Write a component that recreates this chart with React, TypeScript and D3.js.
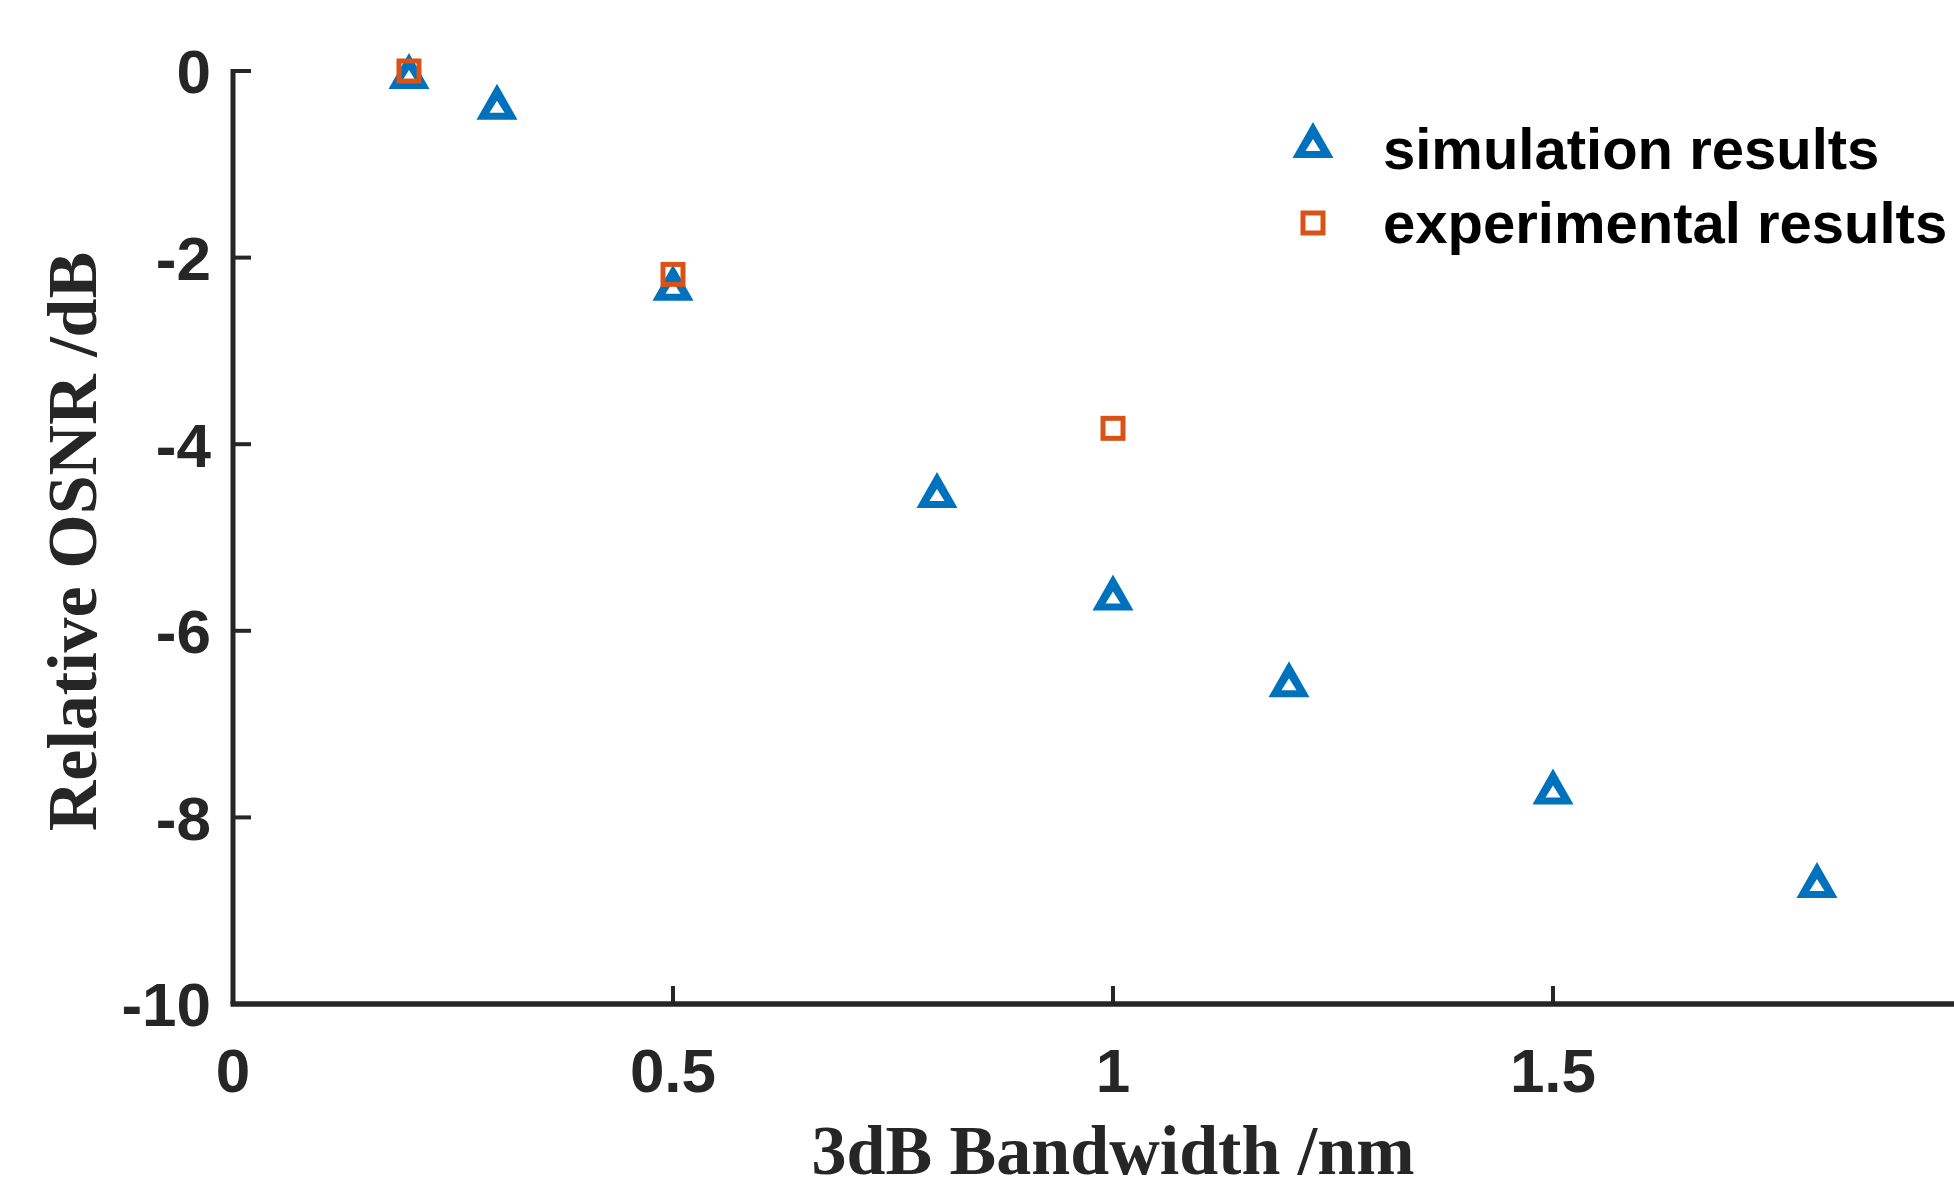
import { useEffect, useRef } from "react";
import * as d3 from "d3";

const simBandwidth = [0.2, 0.3, 0.5, 0.8, 1.0, 1.2, 1.5, 1.8];
const simOsnr = [0, -0.33, -2.27, -4.49, -5.59, -6.52, -7.67, -8.67];

const expBandwidth = [0.2, 0.5, 1.0];
const expOsnr = [0, -2.18, -3.83];

const xTicks = [0, 0.5, 1, 1.5];
const yTicks = [0, -2, -4, -6, -8, -10];

const legendLabels = ["simulation results", "experimental results"];

const BLUE = "#0072BD";
const ORANGE = "#D95319";
const AXIS = "#262626";

// triangle marker with a hole, centred on its bounding box
const triPath =
  "M0,-18L20.5,18L-20.5,18Z M0,-1L-7.5,11L7.5,11Z";

export default function App() {
  const ref = useRef<SVGSVGElement>(null);
  const width = 1954;
  const height = 1188;

  useEffect(() => {
    const margin = { top: 71, left: 233, bottom: 184 };
    const x = d3.scaleLinear().domain([0, 2]).range([margin.left, margin.left + 1760]);
    const y = d3.scaleLinear().domain([-10, 0]).range([height - margin.bottom, margin.top]);

    const svg = d3.select(ref.current);
    svg.selectAll("*").remove();

    const axisFont = "'Liberation Sans', Arial, sans-serif";
    const titleFont = "'Liberation Serif', 'Times New Roman', serif";

    // axes
    svg
      .append("line")
      .attr("x1", x(0))
      .attr("x2", x(0))
      .attr("y1", y(0) - 2)
      .attr("y2", y(-10))
      .attr("stroke", AXIS)
      .attr("stroke-width", 5);
    svg
      .append("line")
      .attr("x1", x(0) - 2.5)
      .attr("x2", width)
      .attr("y1", y(-10))
      .attr("y2", y(-10))
      .attr("stroke", AXIS)
      .attr("stroke-width", 5.5);

    // y ticks
    svg
      .selectAll("line.yt")
      .data(yTicks.filter((d) => d !== -10))
      .join("line")
      .attr("class", "yt")
      .attr("x1", x(0))
      .attr("x2", x(0) + 18)
      .attr("y1", (d) => y(d))
      .attr("y2", (d) => y(d))
      .attr("stroke", AXIS)
      .attr("stroke-width", 4);
    svg
      .selectAll("text.yl")
      .data(yTicks)
      .join("text")
      .attr("class", "yl")
      .attr("x", x(0) - 22)
      .attr("y", (d) => y(d))
      .attr("dy", "0.36em")
      .attr("text-anchor", "end")
      .attr("font-family", axisFont)
      .attr("font-weight", "bold")
      .attr("font-size", 62)
      .attr("fill", AXIS)
      .text((d) => d3.format("")(d).replace("−", "-"));

    // x ticks
    svg
      .selectAll("line.xt")
      .data(xTicks.filter((d) => d !== 0))
      .join("line")
      .attr("class", "xt")
      .attr("x1", (d) => x(d))
      .attr("x2", (d) => x(d))
      .attr("y1", y(-10))
      .attr("y2", y(-10) - 18)
      .attr("stroke", AXIS)
      .attr("stroke-width", 4);
    svg
      .selectAll("text.xl")
      .data(xTicks)
      .join("text")
      .attr("class", "xl")
      .attr("x", (d) => x(d))
      .attr("y", y(-10) + 88)
      .attr("text-anchor", "middle")
      .attr("font-family", axisFont)
      .attr("font-weight", "bold")
      .attr("font-size", 62)
      .attr("fill", AXIS)
      .text((d) => String(d));

    // axis titles
    svg
      .append("text")
      .attr("x", x(1))
      .attr("y", 1174)
      .attr("text-anchor", "middle")
      .attr("font-family", titleFont)
      .attr("font-weight", "bold")
      .attr("font-size", 70)
      .attr("fill", AXIS)
      .text("3dB Bandwidth /nm");
    svg
      .append("text")
      .attr("transform", `translate(96,${(y(0) + y(-10)) / 2 + 4}) rotate(-90)`)
      .attr("text-anchor", "middle")
      .attr("font-family", titleFont)
      .attr("font-weight", "bold")
      .attr("font-size", 70)
      .attr("fill", AXIS)
      .text("Relative OSNR /dB");

    // simulation markers
    const sim = simBandwidth.map((b, i) => ({ b, v: simOsnr[i] }));
    svg
      .selectAll("path.sim")
      .data(sim)
      .join("path")
      .attr("class", "sim")
      .attr("d", triPath)
      .attr("fill-rule", "evenodd")
      .attr("fill", BLUE)
      .attr("transform", (d) => `translate(${x(d.b)},${y(d.v)})`);

    // experimental markers
    const exp = expBandwidth.map((b, i) => ({ b, v: expOsnr[i] }));
    svg
      .selectAll("rect.exp")
      .data(exp)
      .join("rect")
      .attr("class", "exp")
      .attr("x", (d) => x(d.b) - 10)
      .attr("y", (d) => y(d.v) - 10)
      .attr("width", 20)
      .attr("height", 20)
      .attr("fill", "none")
      .attr("stroke", ORANGE)
      .attr("stroke-width", 5);

    // legend
    const lg = svg.append("g").attr("transform", "translate(1313,0)");
    lg.append("path")
      .attr("d", triPath)
      .attr("fill-rule", "evenodd")
      .attr("fill", BLUE)
      .attr("transform", "translate(0,140)");
    lg.append("rect")
      .attr("x", -10)
      .attr("y", 213)
      .attr("width", 20)
      .attr("height", 20)
      .attr("fill", "none")
      .attr("stroke", ORANGE)
      .attr("stroke-width", 5);
    lg.selectAll("text")
      .data(legendLabels)
      .join("text")
      .attr("x", 70)
      .attr("y", (d, i) => 169 + i * 74)
      .attr("font-family", axisFont)
      .attr("font-weight", "bold")
      .attr("font-size", 58)
      .attr("fill", "#000")
      .text((d) => d);
  }, []);

  return (
    <svg
      ref={ref}
      width={width}
      height={height}
      style={{ position: "absolute", left: 0, top: 0, background: "#fff" }}
    ></svg>
  );
}
